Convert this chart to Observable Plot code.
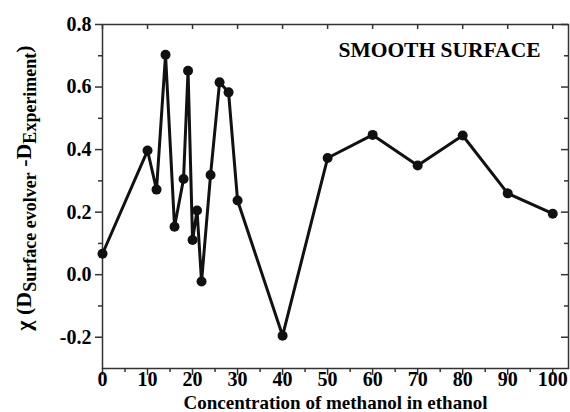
<!DOCTYPE html>
<html><head><meta charset="utf-8">
<script src="https://cdn.jsdelivr.net/npm/d3@7"></script>
<script src="https://cdn.jsdelivr.net/npm/@observablehq/plot@0.6"></script>
<style>
body{margin:0;background:#fff}
svg{display:block}
</style>
</head><body><div id="chart"></div>
<script>
// ---- data ----
const concentration = [0, 10, 12, 14, 16, 18, 19, 20, 21, 22, 24, 26, 28, 30, 40, 50, 60, 70, 80, 90, 100];
const chi = [0.067, 0.397, 0.272, 0.703, 0.153, 0.306, 0.652, 0.111, 0.205, -0.022, 0.319, 0.615, 0.583, 0.237, -0.195, 0.373, 0.447, 0.349, 0.445, 0.26, 0.195];
const xTicks = [0, 10, 20, 30, 40, 50, 60, 70, 80, 90, 100];
const xMinor = [5, 15, 25, 35, 45, 55, 65, 75, 85, 95];
const yTicks = [-0.2, 0.0, 0.2, 0.4, 0.6, 0.8];
const yMinor = [-0.1, 0.1, 0.3, 0.5, 0.7];
const xTitle = "Concentration of methanol in ethanol";
const annotation = "SMOOTH SURFACE";

const table = concentration.map((c, i) => ({c, v: chi[i]}));

const W = 570, H = 412, mL = 102, mR = 2, mT = 24, mB = 44;
const fh = H - mT - mB, fw = W - mL - mR;
const ink = "#111";
const serif = "Liberation Serif";

const chart = Plot.plot({
  width: W, height: H,
  marginLeft: mL, marginRight: mR, marginTop: mT, marginBottom: mB,
  style: {fontFamily: serif, fontWeight: "bold", fontSize: "19px", color: "#000", background: "#fff"},
  x: {domain: [0, 103.5], axis: null},
  y: {domain: [-0.3, 0.8], axis: null},
  marks: [
    Plot.frame({stroke: "#333", strokeWidth: 1.5}),
    Plot.axisX({ticks: xTicks, anchor: "bottom", tickSize: 7, tickPadding: -4, tickFormat: d => String(d), label: null, stroke: "#333", strokeWidth: 1.5, fontSize: 20}),
    Plot.axisX({ticks: xMinor, anchor: "bottom", tickSize: 4, tickFormat: () => "", label: null, stroke: "#333", strokeWidth: 1.5}),
    Plot.axisY({ticks: yTicks, anchor: "left", tickSize: 7, tickPadding: 4, tickFormat: d => d.toFixed(1), label: null, stroke: "#333", strokeWidth: 1.5, fontSize: 20}),
    Plot.axisY({ticks: yMinor, anchor: "left", tickSize: 4, tickFormat: () => "", label: null, stroke: "#333", strokeWidth: 1.5}),
    Plot.tickX(xTicks, {x: d => d, insetBottom: fh - 5, stroke: "#333", strokeWidth: 1.5}),
    Plot.tickY(yTicks, {y: d => d, insetLeft: fw - 7, stroke: "#333", strokeWidth: 1.5}),
    Plot.tickY(yMinor, {y: d => d, insetLeft: fw - 4, stroke: "#333", strokeWidth: 1.5}),
    Plot.line(table, {x: "c", y: "v", stroke: ink, strokeWidth: 3}),
    Plot.dot(table, {x: "c", y: "v", r: 5, fill: ink, stroke: "none"}),
    Plot.text([annotation], {frameAnchor: "top-right", dx: -28, dy: 17, lineAnchor: "top", textAnchor: "end", fontSize: 21.5, fontWeight: "bold", fill: "#000"}),
    Plot.text([xTitle], {frameAnchor: "bottom", dy: 40, lineAnchor: "bottom", fontSize: 19, fontWeight: "bold", fill: "#000"})
  ]
});
document.getElementById("chart").appendChild(chart);

// y-axis title with subscripts
const svg = d3.select(chart);
const t = svg.append("text")
  .attr("transform", `translate(31,${mT + fh / 2 - 8}) rotate(-90)`)
  .attr("text-anchor", "middle")
  .attr("font-family", serif)
  .attr("font-weight", "bold")
  .attr("font-size", 22)
  .attr("fill", "#000");
t.append("tspan").text("χ (D");
t.append("tspan").attr("font-size", 18).attr("dy", 5).text("Surface evolver");
t.append("tspan").attr("dy", -5).text(" -D");
t.append("tspan").attr("font-size", 18).attr("dy", 5).text("Experiment");
t.append("tspan").attr("dy", -5).text(")");
</script>
</body></html>
